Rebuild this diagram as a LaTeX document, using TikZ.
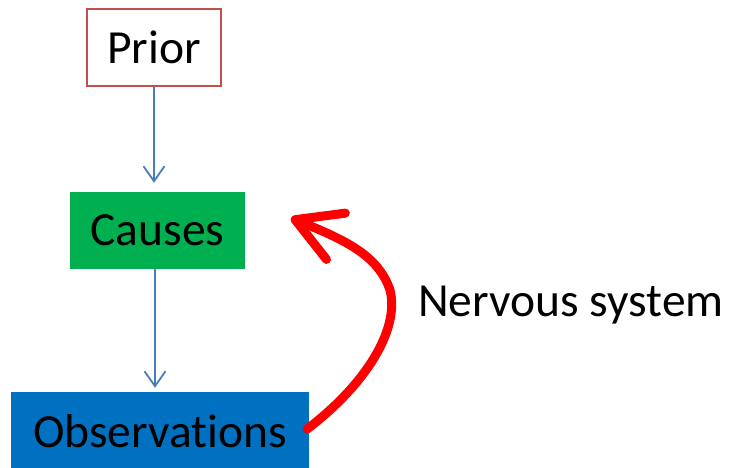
\documentclass[tikz,border=0pt]{standalone}
\usepackage{fontspec}
\setmainfont[Ligatures=NoCommon]{Carlito}
\usetikzlibrary{arrows.meta,calc}
\definecolor{priorred}{HTML}{C0504D}
\definecolor{linkblue}{HTML}{4A7EBB}
\definecolor{causegreen}{HTML}{00B050}
\definecolor{obsblue}{HTML}{0070C0}
\definecolor{loopred}{HTML}{FF0000}
\tikzset{
  label text/.style={font=\fontsize{47.5}{56}\selectfont, text=black},
  box/.style={label text, inner sep=0pt, anchor=center},
  link/.style={draw=linkblue, line width=1.8pt,
    -{Straight Barb[length=15pt,width=21pt,line width=1.8pt]}},
  loop/.style={draw=loopred, line width=9pt, line cap=round,
    -{Straight Barb[length=44pt,width=50pt,round]}}
}
\begin{document}
\begin{tikzpicture}[x=1pt,y=-1pt]
  \useasboundingbox (0,0) rectangle (731,468);
  % boxes
  \node[box, draw=priorred, line width=1.5pt, minimum width=134pt, minimum height=77pt]
    (prior) at (154,47.5) {Prior};
  \node[box, fill=causegreen, minimum width=175pt, minimum height=77pt]
    (causes) at (157.5,230.5) {Causes};
  \node[box, fill=obsblue, minimum width=298pt, minimum height=78pt]
    (obs) at (160,431) {Observations};
  % downward links, kept vertical
  \coordinate (linkstart) at ($(causes.south)+(-2.5,0)$);
  \draw[link, shorten >=9pt] (prior.south) -- (prior.south |- causes.north);
  \draw[link, shorten >=4pt] (linkstart) -- (linkstart |- obs.north);
  % feedback through the nervous system
  \coordinate (loopend) at (291,218);
  \draw[loop] ($(obs.east)+(-2,-2)$) .. controls (365,385) and (400,330) .. (390,290)
    .. controls (378,255) and (345,240) .. (loopend);
  \node[label text, anchor=base west, inner sep=0pt] (nerv) at (418,316) {Nervous system};
\end{tikzpicture}
\end{document}
